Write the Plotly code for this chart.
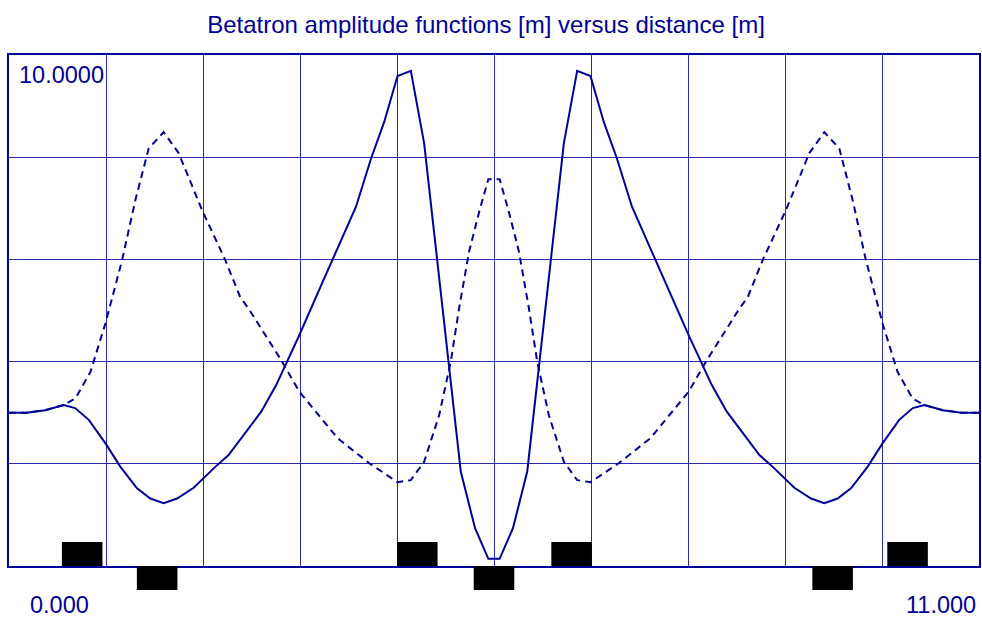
import plotly.graph_objects as go

# Betatron amplitude functions along one cell
s_x = [0.0, 0.2, 0.41, 0.62, 0.75, 0.905, 1.094, 1.264, 1.452, 1.603, 1.754, 1.905,
       2.094, 2.339, 2.49, 2.86, 3.03, 3.293, 3.557, 3.708, 3.935, 4.105, 4.255, 4.406,
       4.557, 4.708, 5.123, 5.285, 5.436, 5.564, 5.715, 5.877, 6.292, 6.443, 6.594,
       6.745, 6.895, 7.065, 7.292, 7.443, 7.707, 7.97, 8.14, 8.51, 8.661, 8.906, 9.095,
       9.246, 9.397, 9.548, 9.736, 9.906, 10.095, 10.25, 10.38, 10.59, 10.8, 11.0]
beta_x = [3.00, 3.00, 3.05, 3.15, 3.09, 2.86, 2.40, 1.94, 1.52, 1.32, 1.23, 1.32,
          1.53, 1.94, 2.17, 3.02, 3.54, 4.52, 5.56, 6.15, 7.03, 7.97, 8.69, 9.59,
          9.69, 8.27, 1.85, 0.74, 0.14, 0.14, 0.74, 1.85, 8.27, 9.69, 9.59,
          8.69, 7.97, 7.03, 6.15, 5.56, 4.52, 3.54, 3.02, 2.17, 1.94, 1.53, 1.32,
          1.23, 1.32, 1.52, 1.94, 2.40, 2.86, 3.09, 3.15, 3.05, 3.00, 3.00]

s_y = [0.0, 0.2, 0.41, 0.62, 0.754, 0.924, 1.094, 1.283, 1.433, 1.584, 1.754, 1.924,
       2.188, 2.452, 2.62, 2.727, 3.086, 3.293, 3.727, 4.086, 4.406, 4.557, 4.708,
       4.878, 5.01, 5.104, 5.217, 5.33, 5.436, 5.564, 5.67, 5.783, 5.896, 5.99, 6.122,
       6.292, 6.443, 6.594, 6.914, 7.273, 7.707, 7.914, 8.273, 8.38, 8.548, 8.812,
       9.076, 9.246, 9.416, 9.567, 9.717, 9.906, 10.076, 10.246, 10.38, 10.59, 10.8, 11.0]
beta_y = [3.00, 3.00, 3.05, 3.15, 3.28, 3.80, 4.75, 5.99, 7.16, 8.17, 8.49, 8.08,
          6.97, 5.99, 5.27, 5.01, 4.03, 3.41, 2.50, 2.01, 1.64, 1.68, 2.04,
          2.95, 4.00, 5.04, 6.15, 6.92, 7.57, 7.57, 6.92, 6.15, 5.04, 4.00, 2.95,
          2.04, 1.68, 1.64, 2.01, 2.50, 3.41, 4.03, 5.01, 5.27, 5.99, 6.97,
          8.08, 8.49, 8.17, 7.16, 5.99, 4.75, 3.80, 3.28, 3.15, 3.05, 3.00, 3.00]

# quadrupoles: focusing drawn above the axis, defocusing below
quad_centers = [0.83, 1.68, 4.63, 5.50, 6.38, 9.34, 10.19]
quad_kind = ["F", "D", "F", "D", "F", "D", "F"]
quad_length = 0.46

NAVY = "#00009a"
GRID = "#2a2aaa"
FONT = "Liberation Sans, Arial, sans-serif"

fig = go.Figure()

fig.add_trace(go.Scatter(x=s_x, y=beta_x, mode="lines",
                         line=dict(color=NAVY, width=2), hoverinfo="skip"))
fig.add_trace(go.Scatter(x=s_y, y=beta_y, mode="lines",
                         line=dict(color=NAVY, width=2, dash="7px,5px"), hoverinfo="skip"))

fig.add_trace(go.Bar(
    x=quad_centers,
    y=[1] * len(quad_centers),
    base=[0 if k == "F" else -1 for k in quad_kind],
    width=quad_length,
    marker=dict(color="black", line=dict(width=0)),
    xaxis="x2", yaxis="y2", hoverinfo="skip",
))

# plot area: 9..981 px wide, 55..590 px tall; axis line at 566 px
y0 = 24 / 535

fig.update_layout(
    width=982, height=617,
    margin=dict(l=9, r=1, t=55, b=27),
    paper_bgcolor="white", plot_bgcolor="rgba(0,0,0,0)",
    showlegend=False,
    font=dict(family=FONT, size=23.5, color=NAVY),
    title=dict(text="Betatron amplitude functions [m] versus distance [m]",
               x=(487 - 9) / 972, xref="paper", xanchor="center",
               y=1 - 25 / 617, yref="container", yanchor="middle",
               font=dict(family=FONT, size=24, color=NAVY)),
    xaxis=dict(range=[0, 11], domain=[0, 1], anchor="y",
               showgrid=True, gridcolor=GRID, gridwidth=1, tick0=0, dtick=1.1,
               showticklabels=False, ticks="", zeroline=False,
               showline=True, linecolor=NAVY, linewidth=2, mirror=True),
    yaxis=dict(range=[0, 10], domain=[y0, 1], anchor="x",
               showgrid=True, gridcolor=GRID, gridwidth=1, tick0=0, dtick=2,
               showticklabels=False, ticks="", zeroline=False,
               showline=True, linecolor=NAVY, linewidth=2, mirror=True),
    xaxis2=dict(range=[0, 11], domain=[0, 1], anchor="y2", visible=False),
    yaxis2=dict(range=[-1, 1], domain=[0, 2 * y0], anchor="x2", visible=False),
    annotations=[
        dict(text="10.0000", xref="paper", yref="paper",
             x=(17 - 9) / 972, y=(590 - 74.5) / 535,
             xanchor="left", yanchor="middle", showarrow=False),
        dict(text="0.000", xref="paper", yref="paper",
             x=(28 - 9) / 972, y=(590 - 605) / 535,
             xanchor="left", yanchor="middle", showarrow=False),
        dict(text="11.000", xref="paper", yref="paper",
             x=(980 - 9) / 972, y=(590 - 605) / 535,
             xanchor="right", yanchor="middle", showarrow=False),
    ],
)

# the page's default body margin would push the 982x617 figure off the window
fig.write_html("out.html", config={"displayModeBar": False},
               post_script="document.body.style.margin='0';document.body.style.overflow='hidden';")
